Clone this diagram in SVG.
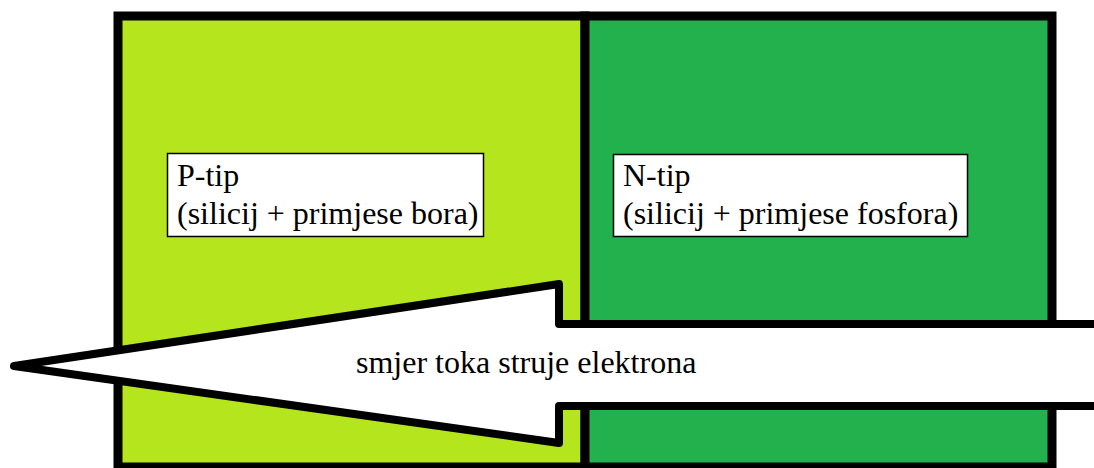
<svg xmlns="http://www.w3.org/2000/svg" width="1094" height="468" viewBox="0 0 1094 468">
  <style>
    .frame { stroke: #000; stroke-width: 9; }
    .label-box { fill: #fff; stroke: #000; stroke-width: 1.5; }
    .txt { font-family: "Liberation Serif", "Times New Roman", serif; font-size: 32px; fill: #000; }
  </style>
  <rect width="1094" height="468" fill="#fff"/>
  <g id="p-type">
    <rect class="frame" x="118" y="16" width="467" height="451" fill="#b5e61d"/>
    <rect class="label-box" x="167.5" y="153.5" width="316" height="83"/>
    <text class="txt" x="177" y="186">P-tip</text>
    <text class="txt" x="177" y="224">(silicij + primjese bora)</text>
  </g>
  <g id="n-type">
    <rect class="frame" x="585" y="16" width="467" height="451" fill="#22b14c"/>
    <rect class="label-box" x="613.5" y="154.5" width="354" height="82"/>
    <text class="txt" x="623" y="186">N-tip</text>
    <text class="txt" x="623" y="224">(silicij + primjese fosfora)</text>
  </g>
  <g id="connectors">
    <path d="M14,366 L559,284 L559,324 L1110,324 L1110,406 L559,406 L559,443 Z" fill="#fff" stroke="#000" stroke-width="8" stroke-linejoin="round"/>
    <text class="txt" x="356" y="373">smjer toka struje elektrona</text>
  </g>
</svg>
